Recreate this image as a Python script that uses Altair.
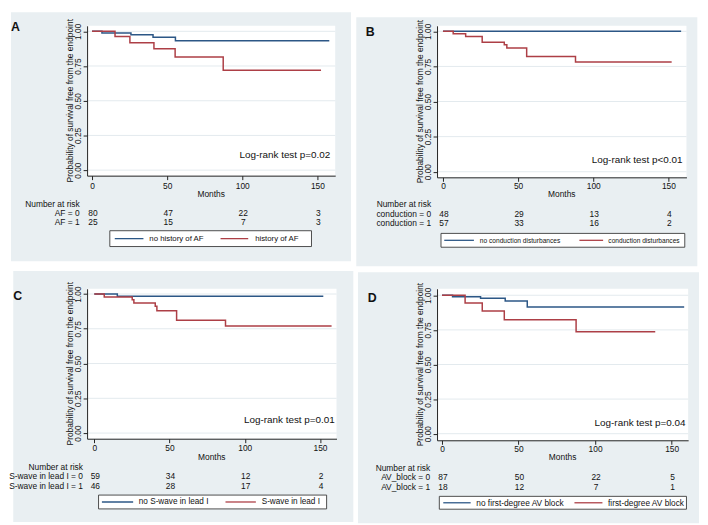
import altair as alt
import pandas as pd

FONT = "Liberation Sans"
BG = "#e9eff2"
GRID = "#e3eaee"
BLUE = "#2c5786"
RED = "#ad3f46"
INK = "#111111"

# ---------------- data ----------------
letters = ["A", "B", "C", "D"]
pvalues = ["Log-rank test p=0.02", "Log-rank test p<0.01",
           "Log-rank test p=0.01", "Log-rank test p=0.04"]
legend_labels = [
    ["no history of AF", "history of AF"],
    ["no conduction disturbances", "conduction disturbances"],
    ["no S-wave in lead I", "S-wave in lead I"],
    ["no first-degree AV block", "first-degree AV block"],
]
risk_title = "Number at risk"
risk_labels = [
    ["AF = 0", "AF = 1"],
    ["conduction = 0", "conduction = 1"],
    ["S-wave in lead I = 0", "S-wave in lead I = 1"],
    ["AV_block = 0", "AV_block = 1"],
]
risk_times = [0, 50, 100, 150]
risk_counts = [
    [[80, 47, 22, 3], [25, 15, 7, 3]],
    [[48, 29, 13, 4], [57, 33, 16, 2]],
    [[59, 34, 12, 2], [46, 28, 17, 4]],
    [[87, 50, 22, 5], [18, 12, 7, 1]],
]
x_ticks = [0, 50, 100, 150]
y_ticks = [0, 0.25, 0.5, 0.75, 1.0]
x_title = "Months"
y_title = "Probability of survival free from the endpoint"

# Kaplan-Meier step curves (time in months, survival)
A0_t = [0, 6.6, 25.9, 40.6, 55.5, 157.9]
A0_s = [1.0, 0.988, 0.975, 0.957, 0.932, 0.932]
A1_t = [0, 15.3, 25.2, 41.2, 55.3, 87.3, 152.4]
A1_s = [1.0, 0.962, 0.917, 0.874, 0.815, 0.719, 0.719]
B0_t = [0, 158.5]
B0_s = [1.0, 1.0]
B1_t = [0, 6.8, 15.1, 26.1, 40.8, 42.5, 55.7, 88.2, 152.2]
B1_s = [1.0, 0.982, 0.963, 0.923, 0.904, 0.881, 0.821, 0.781, 0.781]
C0_t = [0, 15.3, 152.2]
C0_s = [1.0, 0.983, 0.983]
C1_t = [0, 6.6, 25.2, 26.3, 40.5, 41.6, 54.7, 87.2, 157.7]
C1_s = [1.0, 0.979, 0.959, 0.936, 0.912, 0.879, 0.812, 0.770, 0.770]
D0_t = [0, 6.9, 25.2, 41.3, 55.7, 158.2]
D0_s = [1.0, 0.990, 0.979, 0.959, 0.916, 0.916]
D1_t = [0, 15.1, 26.3, 40.7, 87.6, 139.3]
D1_s = [1.0, 0.945, 0.886, 0.824, 0.736, 0.736]

curves = [
    ((A0_t, A0_s), (A1_t, A1_s)),
    ((B0_t, B0_s), (B1_t, B1_s)),
    ((C0_t, C0_s), (C1_t, C1_s)),
    ((D0_t, D0_s), (D1_t, D1_s)),
]

# ---------------- layout (pixels inside each panel) ----------------
LAYOUT = [
    dict(crop=(8, 352, 8, 260), plot=(85, 336, 21.7, 173.3), ticks=(90, 318, 27.3, 167.7),
         letter=(12.5, 22.5), p=(331, 152), xlab_y=183, months_y=191.7, ytitle_x=68,
         risk_x=77.5, risk_y=(201.7, 210.7, 220.7), leg_box=(108, 312, 229, 245),
         leg_seg=((113, 142), (220, 248)), leg_txt=(148, 255), leg_fs=7.9),
    dict(crop=(0, 345, 8, 260), plot=(81.7, 334, 16.7, 170), ticks=(87.7, 315.7, 22.3, 164.3),
         letter=(14, 22.7), p=(330, 152.7), xlab_y=177.7, months_y=187.3, ytitle_x=64.7,
         risk_x=75.7, risk_y=(197.3, 206.7, 216.7), leg_box=(85.7, 332.3, 226.7, 240.7),
         leg_seg=((89, 119), (225.7, 249.7)), leg_txt=(125, 255), leg_fs=6.7),
    dict(crop=(8, 352, 0, 254), plot=(82.7, 335, 18, 169.7), ticks=(90, 318.3, 23.3, 164),
         letter=(12.6, 25.7), p=(333.3, 150.7), xlab_y=178, months_y=188, ytitle_x=65.8,
         risk_x=78.5, risk_y=(198, 207.7, 217.3), leg_box=(94.3, 325, 226.7, 240.7),
         leg_seg=((97.7, 129.3), (222.7, 253.3)), leg_txt=(135, 259.3), leg_fs=8.3),
    dict(crop=(0, 345, 0, 254), plot=(80, 334, 16.7, 170), ticks=(85, 317.3, 23.3, 163.3),
         letter=(14.3, 25.7), p=(331.3, 152.3), xlab_y=177.3, months_y=187.3, ytitle_x=62.8,
         risk_x=73, risk_y=(198, 207.3, 217.3), leg_box=(82.3, 332.3, 226.7, 239.7),
         leg_seg=((86.3, 114), (219, 247.3)), leg_txt=(119.7, 253), leg_fs=8.4),
]

one = pd.DataFrame({"k": [0]})


def txt(text, x, y, size=8.5, align="center", baseline="middle", weight="normal", angle=0, color=INK):
    return alt.Chart(pd.DataFrame({"label": [text]})).mark_text(
        font=FONT, fontSize=size, align=align, baseline=baseline, fontWeight=weight,
        angle=angle, color=color
    ).encode(x=alt.value(x), y=alt.value(y), text="label:N")


def panel(i):
    lay = LAYOUT[i]
    L, R, T, B = lay["plot"]
    x0p, x150p, y1p, y0p = lay["ticks"]
    W, H = R - L, B - T
    xs = 150.0 / (x150p - x0p)
    ys = 1.0 / (y0p - y1p)
    xdom = [(L - x0p) * xs, (R - x0p) * xs]
    ydom = [-(B - y0p) * ys, 1 + (y1p - T) * ys]

    def px(v):
        return v - L

    def py(v):
        return v - T

    xscale = alt.Scale(domain=xdom, nice=False, zero=False)
    yscale = alt.Scale(domain=ydom, nice=False, zero=False)
    xlabpad = max(0, (lay["xlab_y"] - B) - 4 - 3.7)
    xaxis = alt.Axis(values=x_ticks, title=None, grid=False, labelPadding=xlabpad,
                     labelFlush=False, zindex=1)
    yaxis = alt.Axis(values=y_ticks, format=".2f", title=None, grid=False, labelAngle=270,
                     labelAlign="center", labelBaseline="bottom", labelPadding=1,
                     labelFlush=False, zindex=1)

    cl, cr, ct, cb = lay["crop"]
    layers = []
    layers.append(alt.Chart(one).mark_rect(fill=BG, strokeWidth=0).encode(
        x=alt.value(px(cl)), x2=alt.value(px(cr)), y=alt.value(py(ct)), y2=alt.value(py(cb))))
    layers.append(alt.Chart(one).mark_rect(fill="white", strokeWidth=0).encode(
        x=alt.value(0), x2=alt.value(W), y=alt.value(0), y2=alt.value(H)))
    layers.append(alt.Chart(pd.DataFrame({"s": y_ticks})).mark_rule(color=GRID, strokeWidth=1).encode(
        y=alt.Y("s:Q", scale=yscale, axis=yaxis), x=alt.value(0), x2=alt.value(W)))

    rows = []
    for g, (ts, ss) in enumerate(curves[i]):
        for t, s in zip(ts, ss):
            rows.append({"t": t, "s": s, "g": str(g)})
    df = pd.DataFrame(rows)
    layers.append(alt.Chart(df).mark_line(interpolate="step-after", strokeWidth=1.5).encode(
        x=alt.X("t:Q", scale=xscale, axis=xaxis),
        y=alt.Y("s:Q", scale=yscale, axis=yaxis),
        color=alt.Color("g:N", scale=alt.Scale(domain=["0", "1"], range=[BLUE, RED]), legend=None),
    ))

    # texts
    layers.append(txt(letters[i], px(lay["letter"][0]), py(lay["letter"][1]), size=12.5, weight="bold"))
    layers.append(txt(pvalues[i], px(lay["p"][0]), py(lay["p"][1]), size=10, align="right"))
    layers.append(txt(x_title, W / 2, py(lay["months_y"])))
    layers.append(txt(y_title, px(lay["ytitle_x"]), H / 2, angle=270))

    rx = px(lay["risk_x"])
    ry = lay["risk_y"]
    layers.append(txt(risk_title, rx, py(ry[0]), align="right"))
    for r in range(2):
        layers.append(txt(risk_labels[i][r], rx, py(ry[r + 1]), align="right"))
        ndf = pd.DataFrame({"t": risk_times, "n": [str(v) for v in risk_counts[i][r]]})
        layers.append(alt.Chart(ndf).mark_text(font=FONT, fontSize=8.5, align="center",
                                               baseline="middle", dx=1, color=INK).encode(
            x=alt.X("t:Q", scale=xscale, axis=xaxis), y=alt.value(py(ry[r + 1])), text="n:N"))

    # legend
    bx0, bx1, by0, by1 = lay["leg_box"]
    layers.append(alt.Chart(one).mark_rect(fill="white", stroke="#3a3a3a", strokeWidth=0.9).encode(
        x=alt.value(px(bx0)), x2=alt.value(px(bx1)), y=alt.value(py(by0)), y2=alt.value(py(by1))))
    ymid = py((by0 + by1) / 2)
    for g, col in enumerate([BLUE, RED]):
        s0, s1 = lay["leg_seg"][g]
        layers.append(alt.Chart(one).mark_rule(color=col, strokeWidth=1.3).encode(
            x=alt.value(px(s0)), x2=alt.value(px(s1)), y=alt.value(ymid)))
        layers.append(txt(legend_labels[i][g], px(lay["leg_txt"][g]), ymid + 0.3,
                          size=lay["leg_fs"], align="left"))

    return alt.layer(*layers).properties(width=W, height=H)


top = alt.hconcat(panel(0), panel(1), spacing=3)
bottom = alt.hconcat(panel(2), panel(3), spacing=3)
chart = alt.vconcat(top, bottom, spacing=3).properties(
    padding=0, background="white"
).configure_view(stroke="transparent").configure_axis(
    domainColor="#222222", tickColor="#222222", domainWidth=1, tickWidth=1, tickSize=4,
    labelFont=FONT, labelFontSize=8.5, labelColor=INK
)

chart.save("out.html", embed_options={"renderer": "svg", "actions": False})
